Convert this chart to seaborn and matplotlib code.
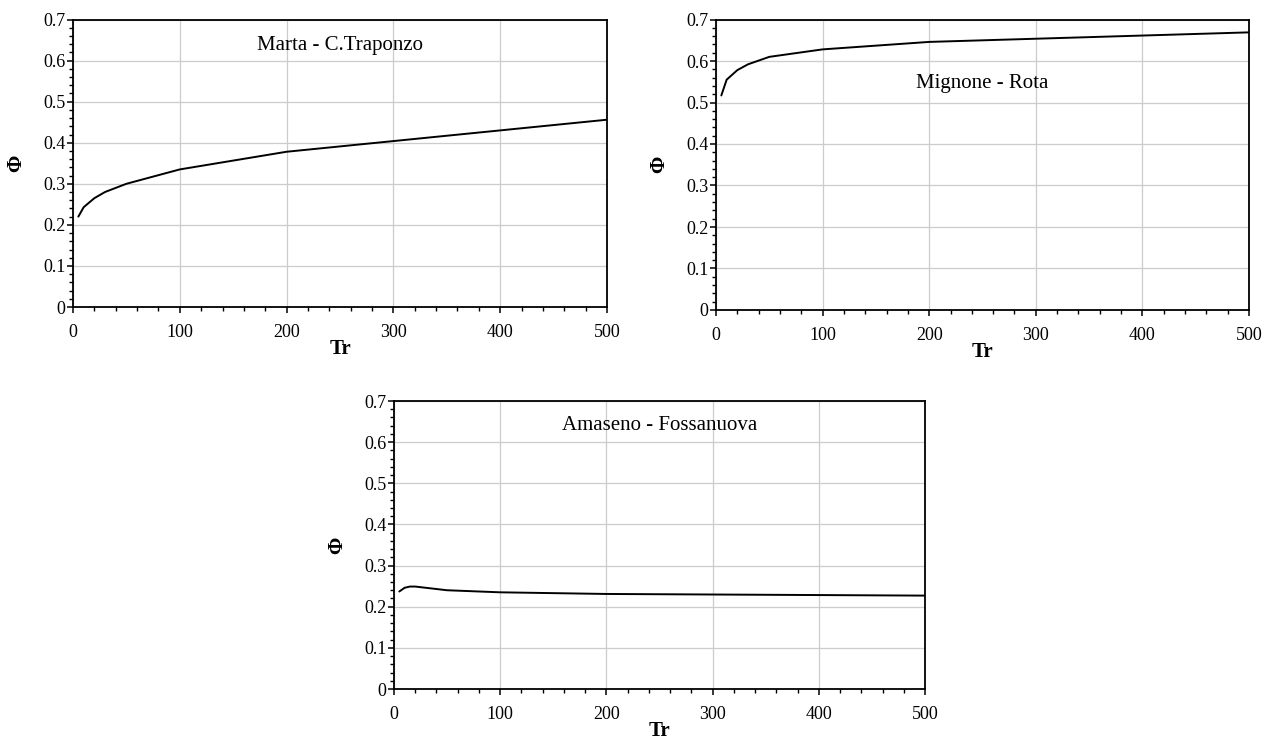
import numpy as np
import pandas as pd
import seaborn as sns
import matplotlib.pyplot as plt
from matplotlib.ticker import MultipleLocator

# data

tr = [5, 10, 20, 30, 50, 100, 200, 500]
phi_marta = [0.220, 0.243, 0.265, 0.280, 0.300, 0.335, 0.378, 0.456]
phi_mignone = [0.517, 0.555, 0.578, 0.592, 0.610, 0.628, 0.646, 0.669]

tr_amaseno = [5, 10, 15, 20, 30, 50, 100, 200, 500]
phi_amaseno = [0.237, 0.246, 0.249, 0.249, 0.246, 0.240, 0.235, 0.231, 0.227]

stations = ["Marta - C.Traponzo", "Mignone - Rota", "Amaseno - Fossanuova"]
label_y = [0.626, 0.535, 0.629]

df = pd.concat([
    pd.DataFrame({"Tr": tr, "phi": phi_marta, "station": stations[0]}),
    pd.DataFrame({"Tr": tr, "phi": phi_mignone, "station": stations[1]}),
    pd.DataFrame({"Tr": tr_amaseno, "phi": phi_amaseno, "station": stations[2]}),
])

# style

sns.set_theme(style="white")
plt.rcParams["font.family"] = ["Liberation Serif", "DejaVu Serif"]

W, H = 1277, 745
fig = plt.figure(figsize=(W / 100, H / 100), dpi=100)

# axes boxes in pixels: left, top, right, bottom
boxes = [
    (73, 19.5, 607, 307),
    (716, 19.5, 1249, 310),
    (394, 401, 925, 689),
]

for station, ly, (l, t, r, b) in zip(stations, label_y, boxes):
    ax = fig.add_axes([l / W, (H - b) / H, (r - l) / W, (b - t) / H])

    sns.lineplot(
        data=df[df["station"] == station],
        x="Tr",
        y="phi",
        color="black",
        linewidth=1.4,
        ax=ax
    )

    ax.set_xlim(0, 500)
    ax.set_ylim(0, 0.7)
    ax.xaxis.set_major_locator(MultipleLocator(100))
    ax.xaxis.set_minor_locator(MultipleLocator(20))
    ax.yaxis.set_major_locator(MultipleLocator(0.1))
    ax.yaxis.set_minor_locator(MultipleLocator(0.02))
    ax.set_yticks(np.arange(0, 0.71, 0.1))
    ax.set_yticklabels(["0"] + [f"{v:.1f}" for v in np.arange(0.1, 0.71, 0.1)])

    ax.grid(True, which="major", color="#cccccc", linewidth=0.9)
    ax.set_axisbelow(True)

    for sp in ax.spines.values():
        sp.set_color("black")
        sp.set_linewidth(1.3)

    ax.tick_params(axis="both", which="both", direction="out", color="black",
                   bottom=True, left=True, top=False, right=False,
                   labelsize=13, labelcolor="black")
    ax.tick_params(axis="both", which="major", length=4.5, width=1.1)
    ax.tick_params(axis="both", which="minor", length=3, width=1.0)
    ax.tick_params(axis="x", which="major", pad=8)
    ax.tick_params(axis="y", which="major", pad=1)

    ax.set_xlabel("Tr", fontsize=15, fontweight="bold", color="black")
    ax.set_ylabel("Φ", fontsize=15, fontweight="bold", color="black")
    hpx = b - t
    wpx = r - l
    ax.xaxis.set_label_coords(0.5, -32 / hpx)
    ax.yaxis.set_label_coords(-47 / wpx, 0.5)

    ax.text(250, ly, station, ha="center", va="baseline", fontsize=15,
            color="black")

plt.savefig("out.png", dpi=100)
plt.close()
